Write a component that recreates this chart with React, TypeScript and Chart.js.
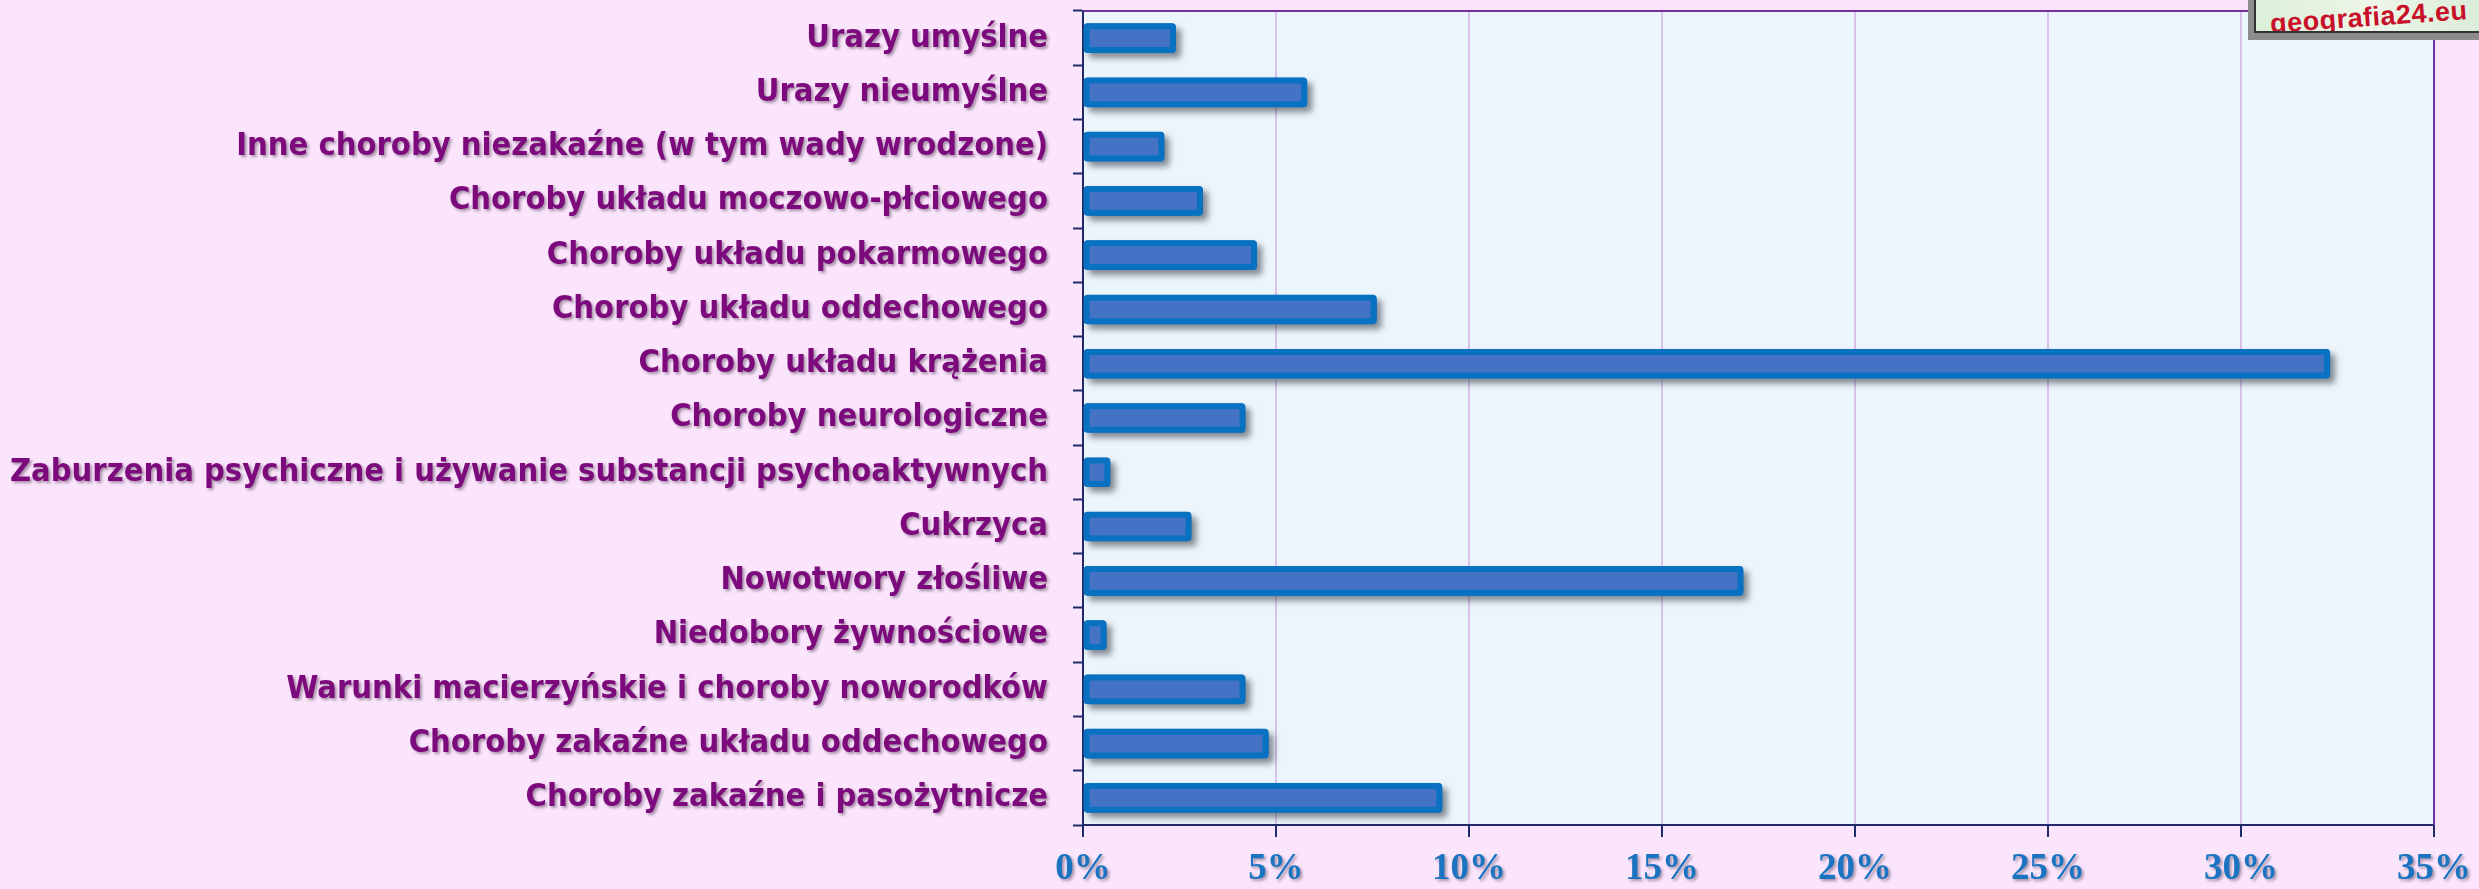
import React, { useEffect, useRef } from "react";
import { Chart, registerables } from "chart.js";

Chart.register(...registerables);

const categories = [
  "Urazy umyślne",
  "Urazy nieumyślne",
  "Inne choroby niezakaźne (w tym wady wrodzone)",
  "Choroby układu moczowo-płciowego",
  "Choroby układu pokarmowego",
  "Choroby układu oddechowego",
  "Choroby układu krążenia",
  "Choroby neurologiczne",
  "Zaburzenia psychiczne i używanie substancji psychoaktywnych",
  "Cukrzyca",
  "Nowotwory złośliwe",
  "Niedobory żywnościowe",
  "Warunki macierzyńskie i choroby noworodków",
  "Choroby zakaźne układu oddechowego",
  "Choroby zakaźne i pasożytnicze",
];

const values = [2.4, 5.8, 2.1, 3.1, 4.5, 7.6, 32.3, 4.2, 0.7, 2.8, 17.1, 0.6, 4.2, 4.8, 9.3];

const xMin = 0;
const xMax = 35;
const xStep = 5;

const PAGE_BG = "#fbe5fd";
const PLOT_BG = "#edf5fc";

const bgPlugin = {
  id: "bgPlugin",
  beforeDraw(chart: any) {
    const { ctx, chartArea } = chart;
    ctx.save();
    ctx.fillStyle = PAGE_BG;
    ctx.fillRect(0, 0, chart.width, chart.height);
    ctx.fillStyle = PLOT_BG;
    ctx.fillRect(chartArea.left, chartArea.top, chartArea.right - chartArea.left, chartArea.bottom - chartArea.top);
    ctx.restore();
    Object.values(chart.scales).forEach((scale: any) => {
      if (!scale.__patched) {
        const orig = scale.drawLabels.bind(scale);
        scale.drawLabels = (area: any) => {
          const c = scale.ctx;
          c.save();
          c.shadowColor = "rgba(60,40,60,0.45)";
          c.shadowBlur = 3;
          c.shadowOffsetX = 2;
          c.shadowOffsetY = 2;
          orig(area);
          c.restore();
        };
        scale.__patched = true;
      }
    });
  },
  beforeDatasetDraw(chart: any, args: any) {
    const ctx = chart.ctx;
    ctx.save();
    if (args.index === 1) {
      ctx.shadowColor = "rgba(40,50,60,0.55)";
      ctx.shadowBlur = 6;
      ctx.shadowOffsetX = 5;
      ctx.shadowOffsetY = 5;
    }
  },
  afterDatasetDraw(chart: any) {
    chart.ctx.restore();
  },
  afterDraw(chart: any) {
    const { ctx, chartArea } = chart;
    ctx.save();
    ctx.strokeStyle = "#7030a0";
    ctx.lineWidth = 2;
    ctx.beginPath();
    ctx.moveTo(chartArea.left, chartArea.top);
    ctx.lineTo(chartArea.right, chartArea.top);
    ctx.lineTo(chartArea.right, chartArea.bottom);
    ctx.stroke();
    ctx.restore();
  },
};

export default function App() {
  const ref = useRef<HTMLCanvasElement>(null);
  useEffect(() => {
    document.body.style.margin = "0";
    document.body.style.background = PAGE_BG;
    const chart = new Chart(ref.current!, {
      type: "bar",
      data: {
        labels: categories,
        datasets: [
          {
            data: values,
            backgroundColor: "#4472c4",
            borderColor: "#0871c2",
            borderWidth: 6,
            borderRadius: 4,
            borderSkipped: false,
            barThickness: 29,
            grouped: false,
          } as any,
          {
            data: values,
            backgroundColor: "#0a70c0",
            borderWidth: 0,
            borderRadius: 4,
            borderSkipped: false,
            barThickness: 29,
            grouped: false,
          } as any,
          {
            data: values,
            backgroundColor: "rgba(0,0,0,0)",
            borderColor: "#3b78d0",
            borderWidth: 2,
            borderRadius: 0,
            borderSkipped: false,
            barThickness: 19,
            grouped: false,
          } as any,
        ],
      },
      options: {
        indexAxis: "y",
        animation: false,
        responsive: false,
        maintainAspectRatio: false,
        layout: { padding: { top: 11, right: 45, left: 0, bottom: 0 } },
        plugins: { legend: { display: false }, tooltip: { enabled: false } },
        scales: {
          x: {
            min: xMin,
            max: xMax,
            ticks: {
              stepSize: xStep,
              callback: (v: any) => v + "%",
              color: "#1a74c2",
              font: { family: "Liberation Serif", weight: "bold", size: 37 },
              padding: 10,
            },
            grid: {
              color: "#d8c2ea",
              lineWidth: 2,
              tickColor: "#1f2a6b",
              tickLength: 12,
              tickWidth: 2,
            },
            border: { color: "#1f2a6b", width: 2 },
            afterFit: (s: any) => {
              s.height = 64;
              s.paddingLeft = 0;
              s.paddingRight = 0;
            },
          },
          y: {
            ticks: {
              color: "#7d0a7d",
              font: { family: "DejaVu Sans Condensed", weight: "bold", size: 32.4 },
              padding: 25,
            },
            grid: {
              display: true,
              drawOnChartArea: false,
              offset: true,
              tickColor: "#1f2a6b",
              tickLength: 10,
              tickWidth: 2,
            },
            border: { color: "#1f2a6b", width: 2 },
            afterFit: (s: any) => {
              s.width = 1083;
              s.paddingTop = 0;
              s.paddingBottom = 0;
            },
          },
        },
      },
      plugins: [bgPlugin],
    });
    return () => chart.destroy();
  }, []);
  return (
    <div style={{ position: "relative", width: 2479, height: 889, background: PAGE_BG, overflow: "hidden" }}>
      <canvas ref={ref} width={2479} height={889} style={{ display: "block" }} />
      <div
        style={{
          position: "absolute",
          left: 2248,
          top: 0,
          width: 240,
          height: 40,
          background: "#8c8c8c",
        }}
      >
        <div
          style={{
            position: "absolute",
            left: 6,
            top: 0,
            right: 0,
            bottom: 7,
            background: "linear-gradient(90deg,#dcefd8,#eef6e8,#d8ecd6)",
            borderLeft: "2px solid #333",
            borderBottom: "2px solid #333",
            overflow: "hidden",
          }}
        >
          <div
            style={{
              position: "absolute",
              left: 14,
              bottom: -2,
              color: "#c8102a",
              fontFamily: "Liberation Sans, Arial, sans-serif",
              fontWeight: "bold",
              fontSize: 27,
              transform: "rotate(-4deg)",
              letterSpacing: 0.5,
            }}
          >
            geografia24.eu
          </div>
        </div>
      </div>
    </div>
  );
}
